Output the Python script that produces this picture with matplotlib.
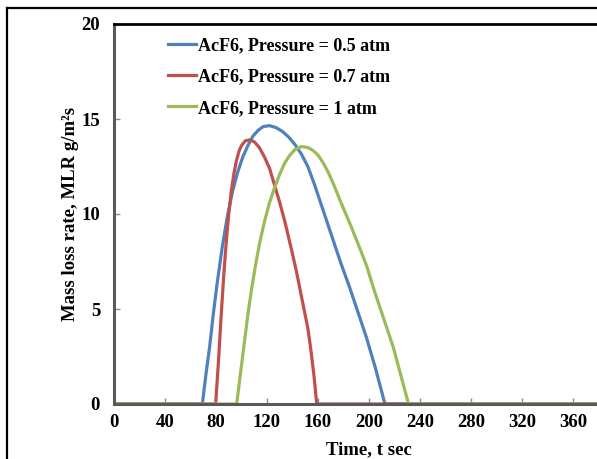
#!/usr/bin/env python3
"""Mass loss rate of AcF6 at three chamber pressures."""

import matplotlib

matplotlib.use("Agg")
import matplotlib.pyplot as plt
from matplotlib.lines import Line2D

# time (s) and mass loss rate (g/m^2 s)
t_05 = [0, 69.3, 72, 75, 78, 81, 85, 89, 93, 97, 101, 105, 109, 113, 117, 122, 127, 132,
        137, 142, 147, 152, 157, 162, 167, 172, 178, 185, 191, 198, 205, 212.5, 400]
mlr_05 = [0, 0, 1.5, 3.0, 4.8, 6.4, 8.3, 9.9, 11.2, 12.2, 13.0, 13.6, 14.1, 14.4, 14.6, 14.65, 14.55, 14.35,
          14.05, 13.65, 13.15, 12.5, 11.6, 10.6, 9.6, 8.6, 7.4, 6.1, 4.9, 3.5, 1.9, 0, 0]

t_07 = [0, 79.7, 82, 84, 86, 88, 90, 92, 94, 96, 98, 100, 103, 106.5, 110, 114, 118, 122,
        126, 130, 134, 139.3, 143, 146, 149, 152, 154.5, 157, 159, 400]
mlr_07 = [0, 0, 2.3, 4.6, 6.7, 8.5, 10.0, 11.2, 12.1, 12.8, 13.3, 13.6, 13.85, 13.9, 13.8, 13.5, 13.0, 12.4,
          11.5, 10.6, 9.6, 8.1, 7.0, 6.0, 5.0, 4.0, 2.8, 1.4, 0, 0]

t_10 = [0, 96.2, 99, 102, 105, 108, 111, 114, 118, 122, 126, 130, 134, 138, 142, 147, 152, 156,
        160, 164, 168, 172, 178, 185, 191, 198, 204, 210, 215, 219, 225, 231, 400]
mlr_10 = [0, 0, 1.5, 3.1, 4.7, 6.1, 7.3, 8.4, 9.6, 10.6, 11.4, 12.1, 12.7, 13.1, 13.4, 13.55, 13.5, 13.35,
          13.1, 12.7, 12.2, 11.6, 10.6, 9.5, 8.5, 7.3, 6.0, 4.8, 3.8, 3.0, 1.5, 0, 0]

labels = ["AcF6, Pressure = 0.5 atm", "AcF6, Pressure = 0.7 atm", "AcF6, Pressure = 1 atm"]
colors = ["#4F81BD", "#C0504D", "#9BBB59"]

x_ticks = list(range(0, 361, 40))
y_ticks = [0, 5, 10, 15, 20]

plt.rcParams["font.family"] = ["Liberation Serif", "DejaVu Serif"]
plt.rcParams["font.weight"] = "bold"

fig = plt.figure(figsize=(5.97, 4.59), dpi=100)
ax = fig.add_axes([114 / 597, 55 / 459, 510 / 597, 380 / 459])

for t, v, lab, c in zip([t_05, t_07, t_10], [mlr_05, mlr_07, mlr_10], labels, colors):
    ax.plot(t, v, color=c, lw=2.3, label=lab, solid_joinstyle="round")

ax.set_xlim(0, 400)
ax.set_ylim(0, 20)
ax.set_xticks(x_ticks)
ax.set_yticks(y_ticks)
ax.tick_params(direction="in", length=4, width=1, color="#8c8c8c", labelsize=13.5)
ax.tick_params(axis="y", pad=10)
ax.tick_params(axis="x", pad=7)
for lbl in ax.get_xticklabels() + ax.get_yticklabels():
    lbl.set_fontweight("bold")

ax.spines["left"].set_color("#595959")
ax.spines["left"].set_linewidth(2.2)
ax.spines["bottom"].set_color("#595959")
ax.spines["bottom"].set_linewidth(2.2)
ax.spines["top"].set_color("black")
ax.spines["top"].set_linewidth(2.0)
ax.spines["right"].set_visible(False)

ax.set_xlabel("Time, t sec", fontsize=13.5, fontweight="bold", labelpad=7.5)
ax.set_ylabel("Mass loss rate, MLR g/m²s", fontsize=13.5, fontweight="bold", labelpad=1.5)

ax.legend(loc="upper left", bbox_to_anchor=(0.092, 0.985), frameon=False,
          handlelength=1.55, handletextpad=0.1, labelspacing=0.8,
          borderaxespad=0.0, prop={"weight": "bold", "size": 13})

# outer frame of the original figure
fig.add_artist(Line2D([7 / 597, 1.0], [1 - 8 / 459, 1 - 8 / 459], color="black", lw=1.6,
                      transform=fig.transFigure))
fig.add_artist(Line2D([7 / 597, 7 / 597], [0.0, 1 - 8 / 459], color="black", lw=1.6,
                      transform=fig.transFigure))

fig.savefig("out.png", dpi=100)
